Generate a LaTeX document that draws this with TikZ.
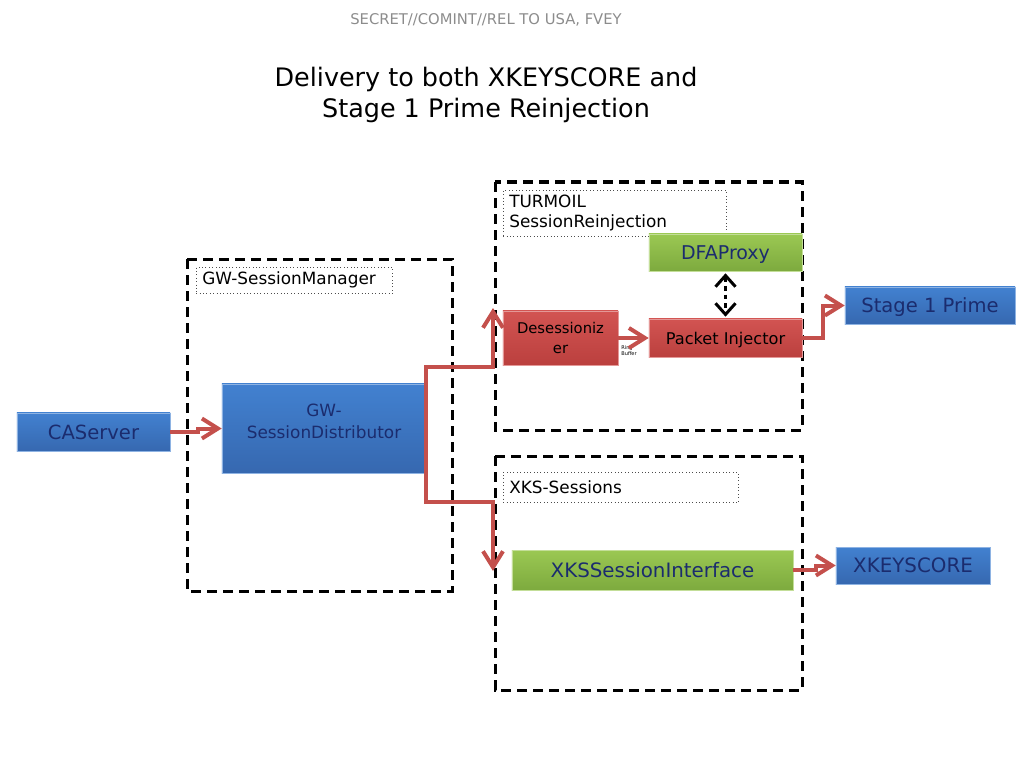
\documentclass[tikz,border=0pt]{standalone}
\usepackage{fontspec}
\setmainfont{DejaVu Sans}
\usetikzlibrary{arrows.meta}
\definecolor{bluetop}{HTML}{4281D0}
\definecolor{bluebot}{HTML}{3668B0}
\definecolor{greentop}{HTML}{9BC853}
\definecolor{greenbot}{HTML}{7DAA3E}
\definecolor{redtop}{HTML}{D25452}
\definecolor{redbot}{HTML}{BB403E}
\definecolor{navytext}{HTML}{1B2C6E}
\definecolor{flowred}{HTML}{C4504C}
\definecolor{bannergray}{HTML}{8C8C8C}

\begin{document}
\begin{tikzpicture}[x=0.025cm, y=-0.025cm,
    box/.style={inner sep=1pt, align=center, line width=0.4pt},
    bluebox/.style={box, draw=bluetop!60!white, top color=bluetop, bottom color=bluebot, text=navytext},
    greenbox/.style={box, draw=greentop!60!white, top color=greentop, bottom color=greenbot, text=navytext},
    redbox/.style={box, draw=redtop!60!white, top color=redtop, bottom color=redbot, text=black},
    oneline/.style={text depth=0pt},
    group/.style={draw=black, line width=0.075cm, dash pattern=on 0.25cm off 0.15cm},
    grouplabel/.style={draw=black!70, dotted, line width=0.4pt, anchor=north west, align=left,
      inner xsep=0.15cm, inner ysep=1pt, font=\fontsize{12}{14.2}\selectfont},
    flow/.style={draw=flowred, line width=0.1cm, -{Straight Barb[length=0.4cm, width=0.5cm]}},
    dbl/.style={draw=black, line width=0.075cm, dash pattern=on 0.12cm off 0.1cm,
      {Straight Barb[length=0.28cm, width=0.5cm]}-{Straight Barb[length=0.28cm, width=0.5cm]},
      shorten <=0.05cm, shorten >=0.05cm}]
  \useasboundingbox (0,0) rectangle (1024,768);

  % Titulo
  \node[text=bannergray, font=\fontsize{10.5}{12}\selectfont] (banner) at (486,20) {SECRET//COMINT//REL TO USA, FVEY};
  \node[align=center, font=\fontsize{18.1}{22}\selectfont] (title) at (486,95) {Delivery to both XKEYSCORE and\\Stage 1 Prime Reinjection};

  % Grupos
  \draw[group] (187,259) rectangle (452,591);
  \draw[group] (495,182) rectangle (802,430);
  \draw[group] (495,456) rectangle (802,690);
  \node[grouplabel, text width=4.6cm, minimum height=0.65cm] (gwlabel) at (196,267) {GW-SessionManager};
  \node[grouplabel, text width=5.275cm, minimum height=1.15cm] (turlabel) at (503,190) {TURMOIL\\SessionReinjection};
  \node[grouplabel, text width=5.575cm, minimum height=0.75cm] (xkslabel) at (503,472) {XKS-Sessions};

  % Cajas
  \node[bluebox, oneline, minimum width=3.825cm, minimum height=0.95cm, font=\fontsize{13.9}{16}\selectfont] (ca) at (93.5,432) {CAServer};
  \node[bluebox, text depth=0.35cm, minimum width=5.1cm, minimum height=2.225cm, font=\fontsize{12}{15.5}\selectfont] (gwsd) at (324,428.5) {GW-\\SessionDistributor};
  \node[redbox, minimum width=2.875cm, minimum height=1.35cm, font=\fontsize{10.5}{14}\selectfont] (desess) at (560.5,338) {Desessioniz\\er};
  \node[greenbox, oneline, minimum width=3.825cm, minimum height=0.925cm, font=\fontsize{13.5}{16}\selectfont] (dfa) at (725.5,252.5) {DFAProxy};
  \node[redbox, oneline, minimum width=3.825cm, minimum height=0.95cm, font=\fontsize{11.5}{14}\selectfont] (inject) at (725.5,338) {Packet Injector};
  \node[bluebox, oneline, minimum width=4.25cm, minimum height=0.925cm, font=\fontsize{13.9}{16}\selectfont] (stage) at (930,305.5) {Stage 1 Prime};
  \node[greenbox, oneline, minimum width=7.025cm, minimum height=1cm, font=\fontsize{14.1}{16}\selectfont] (xksif) at (652.5,570) {XKSSessionInterface};
  \node[bluebox, oneline, minimum width=3.85cm, minimum height=0.925cm, font=\fontsize{14.1}{16}\selectfont] (xks) at (913,565.5) {XKEYSCORE};
  \node[align=left, inner sep=0pt, font=\fontsize{3.6}{4.2}\selectfont] (ring) at (629,351) {Ring\\Buffer};

  % Puntos de paso
  \coordinate (bendA) at (493,367);
  \coordinate (turIn) at (493,308);
  \coordinate (bendB) at (493,502);
  \coordinate (xksIn) at (493,571);

  % Flechas
  \draw[flow] (ca.east) -- ++(28,0) |- (gwsd.west);
  \draw[flow] (gwsd.east) |- (bendA) -- (turIn);
  \draw[flow] (gwsd.east) |- (bendB) -- (xksIn);
  \draw[flow] (desess) -- (inject);
  \draw[flow] (inject.east) -- ++(21,0) |- (stage.west);
  \draw[flow] (xksif.east) -- ++(23,0) |- (xks.west);
  \draw[dbl] (dfa) -- (inject);
\end{tikzpicture}
\end{document}
